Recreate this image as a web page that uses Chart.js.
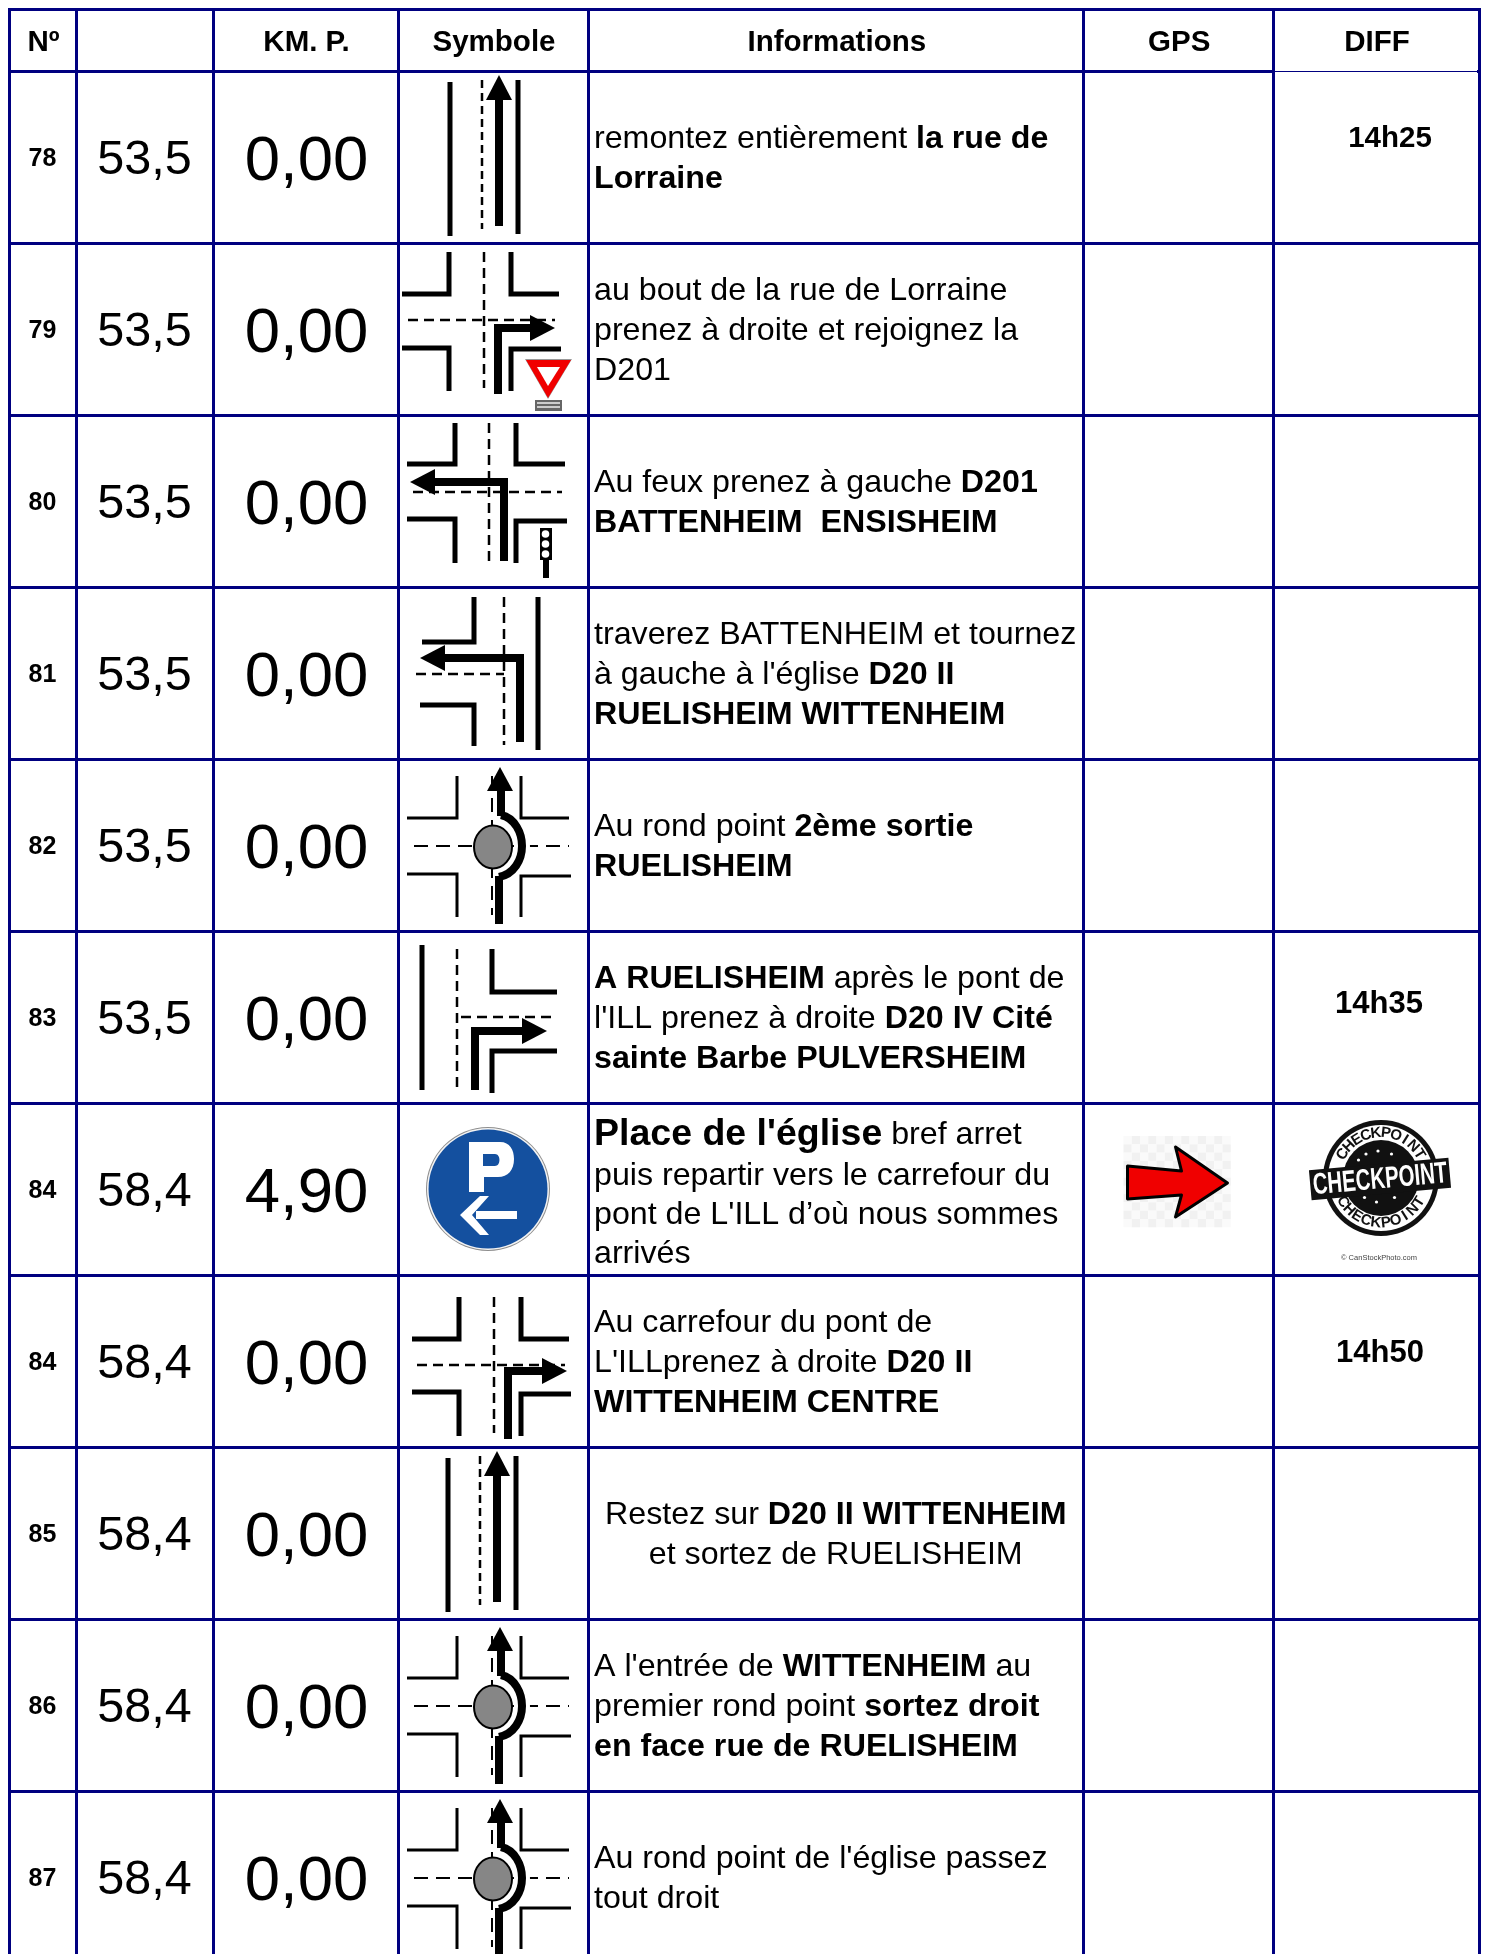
<!DOCTYPE html>
<html lang="fr">
<head>
<meta charset="utf-8">
<title>Road book</title>
<script src="https://cdn.jsdelivr.net/npm/chart.js@4"></script>
<style>
  html, body { margin: 0; background: #fff; }
  canvas { display: block; }
</style>
</head>
<body>
<canvas id="roadbook" width="1486" height="1954"></canvas>
<script>
const headers = ['Nº', '', 'KM. P.', 'Symbole', 'Informations', 'GPS', 'DIFF'];
const stepIds = ['78', '79', '80', '81', '82', '83', '84', '84', '85', '86', '87'];
const totalKm = [53.5, 53.5, 53.5, 53.5, 53.5, 53.5, 58.4, 58.4, 58.4, 58.4, 58.4];
const partialKm = [0, 0, 0, 0, 0, 0, 4.9, 0, 0, 0, 0];
const symbols = ['straightA', 'crossRightYield', 'crossLeftLight', 'teeLeft', 'roundabout', 'teeRight', 'parking', 'crossRight', 'straightB', 'roundabout', 'roundabout'];
const diffTimes = ['14h25', '', '', '', '', '14h35', '', '14h50', '', '', ''];
// <b> marks the bold runs
const infoLines = [
  ['remontez entièrement <b>la rue de</b>', '<b>Lorraine</b>'],
  ['au bout de la rue de Lorraine', 'prenez à droite et rejoignez la', 'D201'],
  ['Au feux prenez à gauche <b>D201</b>', '<b>BATTENHEIM  ENSISHEIM</b>'],
  ['traverez BATTENHEIM et tournez', "à gauche à l'église <b>D20 II</b>", '<b>RUELISHEIM WITTENHEIM</b>'],
  ['Au rond point <b>2ème sortie</b>', '<b>RUELISHEIM</b>'],
  ['<b>A RUELISHEIM</b> après le pont de', "l'ILL prenez à droite <b>D20 IV Cité</b>", '<b>sainte Barbe PULVERSHEIM</b>'],
  ["<b>Place de l'église</b> bref arret", 'puis repartir vers le carrefour du', "pont de L'ILL d’où nous sommes", 'arrivés'],
  ['Au carrefour du pont de', "L'ILLprenez à droite <b>D20 II</b>", '<b>WITTENHEIM CENTRE</b>'],
  ['Restez sur <b>D20 II WITTENHEIM</b>', 'et sortez de RUELISHEIM'],
  ["A l'entrée de <b>WITTENHEIM</b> au", 'premier rond point <b>sortez droit</b>', '<b>en face rue de RUELISHEIM</b>'],
  ["Au rond point de l'église passez", 'tout droit']
];

// table layout, in page pixels
const columnEdges = [9, 76, 213, 398, 588, 1083.5, 1273, 1479];
const rowEdges = [9, 71, 243, 415, 587, 759, 931, 1103, 1275, 1447, 1619, 1791];
const rowHeight = 172;
const FONT = '"Liberation Sans", Arial, sans-serif';
const NAVY = '#000080';
const colCenter = i => (columnEdges[i] + columnEdges[i + 1]) / 2;
const rowCenter = i => rowEdges[i + 1] + rowHeight / 2;
const commaFixed = (v, digits) => v.toFixed(digits).replace('.', ',');

// ---- small drawing helpers for the road pictograms
function poly(c, pts, w) {
  c.beginPath();
  pts.forEach((p, i) => i ? c.lineTo(p[0], p[1]) : c.moveTo(p[0], p[1]));
  c.lineWidth = w;
  c.stroke();
}
function dashed(c, pts, w = 2.5, dash = [10, 6]) {
  c.setLineDash(dash);
  poly(c, pts, w);
  c.setLineDash([]);
}
function fillPoly(c, pts) {
  c.beginPath();
  pts.forEach((p, i) => i ? c.lineTo(p[0], p[1]) : c.moveTo(p[0], p[1]));
  c.closePath();
  c.fill();
}
// polyline that ends in a filled head, last point is the tip
function arrow(c, pts, w = 8) {
  const tip = pts[pts.length - 1], prev = pts[pts.length - 2];
  const len = Math.hypot(tip[0] - prev[0], tip[1] - prev[1]);
  const ux = (tip[0] - prev[0]) / len, uy = (tip[1] - prev[1]) / len;
  const bx = tip[0] - ux * 25, by = tip[1] - uy * 25;
  poly(c, pts.slice(0, -1).concat([[bx, by]]), w);
  fillPoly(c, [tip, [bx - uy * 13, by + ux * 13], [bx + uy * 13, by - ux * 13]]);
}

const pictograms = {
  straightA(c) { straight(c, 2); },
  straightB(c) { straight(c, 0); },
  crossRightYield(c) {
    poly(c, [[4, 51], [51, 51], [51, 9]], 5);
    poly(c, [[113, 9], [113, 51], [161, 51]], 5);
    poly(c, [[4, 105], [51, 105], [51, 148]], 5);
    poly(c, [[113, 148], [113, 106], [163, 106]], 5);
    dashed(c, [[86, 9], [86, 145]]);
    dashed(c, [[10, 77], [157, 77]]);
    arrow(c, [[100, 151], [100, 85], [157, 85]]);
    // yield sign
    c.fillStyle = '#fff';
    c.fillRect(124, 112, 52, 58);
    c.fillStyle = '#999';
    fillPoly(c, [[127, 116], [174, 116], [150, 156]]);
    c.fillStyle = '#f00000';
    fillPoly(c, [[128, 117], [173, 117], [150, 155]]);
    c.fillStyle = '#fff';
    fillPoly(c, [[139, 124], [162, 124], [150, 143]]);
    c.fillStyle = '#666';
    c.fillRect(137, 157, 27, 11);
    c.fillStyle = '#ccc';
    c.fillRect(139, 159, 23, 2);
    c.fillRect(139, 163, 23, 2);
  },
  crossLeftLight(c) {
    poly(c, [[9, 49], [57, 49], [57, 8]], 5);
    poly(c, [[118, 8], [118, 49], [167, 49]], 5);
    poly(c, [[9, 104], [57, 104], [57, 148]], 5);
    poly(c, [[118, 148], [118, 106], [169, 106]], 5);
    dashed(c, [[91, 8], [91, 146]]);
    dashed(c, [[15, 77], [164, 77]]);
    arrow(c, [[106, 146], [106, 67], [12, 67]]);
    // traffic light
    c.fillRect(142, 113, 12, 32);
    c.fillStyle = '#fff';
    [119, 129, 139].forEach(y => {
      c.beginPath();
      c.arc(147.5, y, 3.8, 0, Math.PI * 2);
      c.fill();
    });
    c.fillStyle = '#000';
    poly(c, [[148, 145], [148, 163]], 6);
  },
  teeLeft(c) {
    poly(c, [[24, 55], [76, 55], [76, 10]], 5);
    poly(c, [[22, 118], [76, 118], [76, 159]], 5);
    poly(c, [[140, 10], [140, 163]], 5);
    dashed(c, [[106, 10], [106, 158]]);
    dashed(c, [[18, 87], [106, 87]]);
    arrow(c, [[122, 155], [122, 71], [22, 71]]);
  },
  teeRight(c) {
    poly(c, [[24, 14], [24, 159]], 5);
    dashed(c, [[59, 18], [59, 161]]);
    poly(c, [[94, 18], [94, 61], [159, 61]], 5);
    poly(c, [[94, 162], [94, 120], [159, 120]], 5);
    dashed(c, [[63, 86], [159, 86]]);
    arrow(c, [[77, 159], [77, 100], [149, 100]]);
  },
  crossRight(c) {
    poly(c, [[14, 64], [61, 64], [61, 22]], 5);
    poly(c, [[123, 22], [123, 64], [171, 64]], 5);
    poly(c, [[14, 117], [61, 117], [61, 161]], 5);
    poly(c, [[123, 161], [123, 119], [173, 119]], 5);
    dashed(c, [[96, 22], [96, 158]]);
    dashed(c, [[19, 90], [167, 90]]);
    arrow(c, [[110, 164], [110, 96], [169, 96]]);
  },
  roundabout(c) {
    poly(c, [[9, 59], [59, 59], [59, 17]], 3);
    poly(c, [[123, 17], [123, 59], [171, 59]], 3);
    poly(c, [[9, 115], [59, 115], [59, 158]], 3);
    poly(c, [[123, 158], [123, 117], [173, 117]], 3);
    dashed(c, [[16, 87], [171, 87]], 2, [14, 8]);
    dashed(c, [[94, 17], [94, 156]], 2, [14, 8]);
    // white halo, then the ring road and the arrow
    c.strokeStyle = '#fff';
    c.beginPath();
    c.moveTo(103, 60);
    c.bezierCurveTo(117, 62, 124, 75, 124, 87);
    c.bezierCurveTo(124, 100, 116, 113, 101, 116);
    c.lineWidth = 16;
    c.stroke();
    c.strokeStyle = '#000';
    c.beginPath();
    c.moveTo(103, 56);
    c.bezierCurveTo(117, 59, 124, 74, 124, 87);
    c.bezierCurveTo(124, 101, 116, 115, 101, 118);
    c.lineWidth = 8;
    c.stroke();
    poly(c, [[103, 57], [103, 30]], 8);
    fillPoly(c, [[102, 8], [89, 32], [115, 32]]);
    poly(c, [[101, 117], [101, 165]], 8);
    c.beginPath();
    c.ellipse(95, 88, 19, 21.5, 0, 0, Math.PI * 2);
    c.fillStyle = '#868686';
    c.fill();
    c.lineWidth = 2;
    c.stroke();
    c.fillStyle = '#000';
  },
  parking(c) {
    c.beginPath();
    c.arc(90, 86, 62, 0, Math.PI * 2);
    c.fillStyle = '#8e8e8e';
    c.fill();
    c.beginPath();
    c.arc(90, 86, 61, 0, Math.PI * 2);
    c.fillStyle = '#f4f4f4';
    c.fill();
    c.beginPath();
    c.arc(90, 86, 59.5, 0, Math.PI * 2);
    c.fillStyle = '#14509f';
    c.fill();
    c.fillStyle = '#fff';
    c.beginPath();
    c.moveTo(71, 39);
    c.lineTo(102, 39);
    c.bezierCurveTo(112, 39, 116, 47, 116, 56);
    c.bezierCurveTo(116, 67, 110, 74, 100, 74);
    c.lineTo(86, 74);
    c.lineTo(86, 89);
    c.lineTo(71, 89);
    c.closePath();
    c.moveTo(85, 51);
    c.lineTo(85, 63);
    c.lineTo(97, 63);
    c.bezierCurveTo(103, 63, 103, 51, 97, 51);
    c.closePath();
    c.fill('evenodd');
    c.fillRect(78, 108, 41, 8);
    fillPoly(c, [[62, 112], [82, 93], [91, 93], [74, 112], [91, 132], [82, 132]]);
    c.fillStyle = '#000';
  }
};

function straight(c, dx) {
  poly(c, [[50 + dx, 11], [50 + dx, 165]], 5);
  dashed(c, [[82 + dx, 9], [82 + dx, 158]], 2.5, [8, 5]);
  poly(c, [[118 + dx, 9], [118 + dx, 163]], 5);
  arrow(c, [[99 + dx, 155], [99 + dx, 4]]);
}

function drawRedArrow(c) {
  // washed out checkerboard behind the clip art
  for (let y = 0; y < 11; y++) {
    for (let x = 0; x < 13; x++) {
      c.fillStyle = (x + y) % 2 ? '#f1f1f1' : '#fafafa';
      c.fillRect(40 + x * 8.25, 33 + y * 8.3, 8.25, 8.3);
    }
  }
  c.beginPath();
  [[44, 63], [98, 68], [92, 44], [144, 80], [92, 114], [98, 92], [44, 96]].forEach((p, i) => i ? c.lineTo(p[0], p[1]) : c.moveTo(p[0], p[1]));
  c.closePath();
  c.fillStyle = '#f00000';
  c.fill();
  c.strokeStyle = '#000';
  c.lineWidth = 3;
  c.lineJoin = 'round';
  c.stroke();
  c.lineJoin = 'miter';
}

function arcText(c, text, cx, cy, r, from, step, flip) {
  [...text].forEach((ch, i) => {
    const a = from + step * i;
    c.save();
    c.translate(cx + r * Math.cos(a), cy + r * Math.sin(a));
    c.rotate(flip ? a - Math.PI / 2 : a + Math.PI / 2);
    c.fillText(ch, 0, 0);
    c.restore();
  });
}

function drawStamp(c) {
  const cx = 108, cy = 75;
  c.fillStyle = '#111';
  c.beginPath();
  c.arc(cx, cy, 58, 0, Math.PI * 2);
  c.fill();
  c.fillStyle = '#fff';
  c.beginPath();
  c.arc(cx, cy, 53, 0, Math.PI * 2);
  c.fill();
  c.fillStyle = '#111';
  c.beginPath();
  c.arc(cx, cy, 38, 0, Math.PI * 2);
  c.fill();
  c.font = 'bold 15px ' + FONT;
  c.textAlign = 'center';
  c.textBaseline = 'middle';
  arcText(c, 'CHECKPOINT', cx, cy, 45, -Math.PI / 2 - 4.5 * 0.225, 0.225, false);
  arcText(c, 'CHECKPOINT', cx, cy, 45, Math.PI / 2 + 4.5 * 0.225, -0.225, true);
  // stars
  c.fillStyle = '#fff';
  [[-30, -24], [-20, -32], [-4, -36], [14, -32], [-22, 26], [-6, 32], [18, 26]].forEach(s => {
    c.beginPath();
    c.arc(cx + s[0] * 0.75, cy + s[1] * 0.75, 1.6, 0, Math.PI * 2);
    c.fill();
  });
  // band across the stamp
  c.save();
  c.translate(cx - 1, cy + 1);
  c.rotate(-0.09);
  c.fillStyle = '#111';
  c.fillRect(-70, -15, 140, 30);
  c.fillStyle = '#fff';
  c.font = 'bold 30px ' + FONT;
  c.textAlign = 'center';
  c.textBaseline = 'middle';
  c.save();
  c.scale(0.68, 1);
  c.fillText('CHECKPOINT', 0, 1);
  c.restore();
  c.restore();
  c.fillStyle = '#444';
  c.font = '7.5px ' + FONT;
  c.fillText('© CanStockPhoto.com', 106, 155);
}

// splits one line into plain and bold runs
function runsOf(line) {
  return line.split(/(<b>.*?<\/b>)/).filter(Boolean).map(part => ({
    bold: part.startsWith('<b>'),
    text: part.replace(/<\/?b>/g, '')
  }));
}

const INFO_SIZE = 32.2;
const LEAD_SIZE = 37.5;
const LINE_STEP = 40;
const INFO_DY = 2.5;
const leadRowOffsets = [-54, -13, 26, 65]; // the big first line pushes row 84 around

function drawInfo(c, i, y) {
  const lines = infoLines[i];
  lines.forEach((line, l) => {
    const runs = runsOf(line);
    const sizeOf = r => (i === 6 && l === 0 && r.bold) ? LEAD_SIZE : INFO_SIZE;
    const widths = runs.map(r => {
      c.font = (r.bold ? 'bold ' : '') + sizeOf(r) + 'px ' + FONT;
      return c.measureText(r.text).width;
    });
    const total = widths.reduce((a, b) => a + b, 0);
    let x = i === 8 ? colCenter(4) - total / 2 : columnEdges[4] + 6;
    const ly = i === 6 ? y + leadRowOffsets[l] : y + INFO_DY + (l - (lines.length - 1) / 2) * LINE_STEP;
    runs.forEach((r, k) => {
      c.font = (r.bold ? 'bold ' : '') + sizeOf(r) + 'px ' + FONT;
      c.fillText(r.text, x, ly);
      x += widths[k];
    });
  });
}

const tableCells = {
  id: 'tableCells',
  afterDatasetsDraw(chart) {
    const c = chart.ctx;
    const ds = chart.data.datasets;
    c.save();
    c.fillStyle = '#000';
    c.strokeStyle = '#000';
    c.textBaseline = 'middle';

    // DIFF header underline is a thin one in the original
    const xs = chart.scales.x, ys = chart.scales.y;
    const hy = ys.getPixelForValue(rowEdges[1]);
    const dl = xs.getPixelForValue(columnEdges[6]) + 2, dr = xs.getPixelForValue(columnEdges[7]) - 2;
    c.fillStyle = '#fff';
    c.fillRect(dl, hy - 2, dr - dl, 4);
    c.fillStyle = NAVY;
    c.fillRect(dl, hy, dr - dl, 1);
    c.fillStyle = '#000';

    // every text column is a dataset, its point gives the position
    ds.forEach((set, d) => {
      if (!set.font) return;
      const meta = chart.getDatasetMeta(d);
      c.textAlign = 'center';
      meta.data.forEach((pt, i) => {
        const cell = set.data[i];
        if (!cell.text) return;
        c.font = cell.font || set.font;
        c.fillText(cell.text, pt.x + (cell.dx || 0) + set.textDx, pt.y + (cell.dy || 0) + set.textDy);
      });
    });

    c.textAlign = 'left';
    chart.getDatasetMeta(ds.findIndex(s => s.label === 'Informations')).data.forEach((pt, i) => drawInfo(c, i, pt.y));

    chart.getDatasetMeta(ds.findIndex(s => s.label === 'Symbole')).data.forEach((pt, i) => {
      c.save();
      c.translate(pt.x - (columnEdges[4] - columnEdges[3]) / 2, pt.y - rowHeight / 2);
      c.fillStyle = '#000';
      c.strokeStyle = '#000';
      pictograms[symbols[i]](c);
      c.restore();
    });

    // images of the checkpoint row
    const arrowRow = symbols.indexOf('parking');
    const rowTop = ys.getPixelForValue(rowEdges[arrowRow + 1]);
    c.save();
    c.translate(xs.getPixelForValue(columnEdges[5]), rowTop);
    drawRedArrow(c);
    c.restore();
    c.save();
    c.translate(xs.getPixelForValue(columnEdges[6]), rowTop);
    drawStamp(c);
    c.restore();
    c.restore();
  }
};

const rowPoints = (col, texts, extra) => texts.map((text, i) => ({ x: colCenter(col), y: rowCenter(i), text, ...(extra ? extra(i) : {}) }));
// the times do not sit in the middle of their cells, the first one is a bit smaller too
const diffNudge = { 0: { dx: 14, dy: -20, font: 'bold 29.5px ' + FONT }, 5: { dx: 3, dy: -15 }, 7: { dx: 4, dy: -10 } };

new Chart(document.getElementById('roadbook'), {
  type: 'scatter',
  data: {
    datasets: [
      { label: 'En-tête', font: 'bold 29.5px ' + FONT, textDx: 1, textDy: 2, data: headers.map((text, i) => ({ x: colCenter(i), y: (rowEdges[0] + rowEdges[1]) / 2 + 1, text })) },
      { label: 'Nº', font: 'bold 25px ' + FONT, textDx: 0, textDy: 2.5, data: rowPoints(0, stepIds) },
      { label: 'Km total', font: '48.5px ' + FONT, textDx: 0, textDy: 3.5, data: rowPoints(1, totalKm.map(v => commaFixed(v, 1))) },
      { label: 'KM. P.', font: '63.5px ' + FONT, textDx: 1, textDy: 5, data: rowPoints(2, partialKm.map(v => commaFixed(v, 2))) },
      { label: 'Symbole', data: rowPoints(3, symbols) },
      { label: 'Informations', data: rowPoints(4, stepIds) },
      { label: 'DIFF', font: 'bold 31px ' + FONT, textDx: 0, textDy: 2, data: rowPoints(6, diffTimes, i => diffNudge[i] || {}) }
    ]
  },
  options: {
    responsive: false,
    animation: false,
    events: [],
    elements: { point: { radius: 0 } },
    layout: { padding: { left: 8, right: 6, top: 8, bottom: 0 } },
    plugins: { legend: { display: false }, tooltip: { enabled: false } },
    scales: {
      x: {
        type: 'linear', min: 8, max: 1480,
        afterBuildTicks: s => { s.ticks = columnEdges.map(value => ({ value })); },
        ticks: { display: false },
        grid: { color: NAVY, lineWidth: 3, drawTicks: false },
        border: { display: false }
      },
      y: {
        type: 'linear', reverse: true, min: 8, max: 1954,
        afterBuildTicks: s => { s.ticks = rowEdges.map(value => ({ value })); },
        ticks: { display: false },
        grid: { color: NAVY, lineWidth: 3, drawTicks: false },
        border: { display: false }
      }
    }
  },
  plugins: [tableCells, {
    id: 'whitePage',
    beforeDraw(chart) {
      chart.ctx.save();
      chart.ctx.fillStyle = '#fff';
      chart.ctx.fillRect(0, 0, chart.width, chart.height);
      chart.ctx.restore();
    }
  }]
});
</script>
</body>
</html>
